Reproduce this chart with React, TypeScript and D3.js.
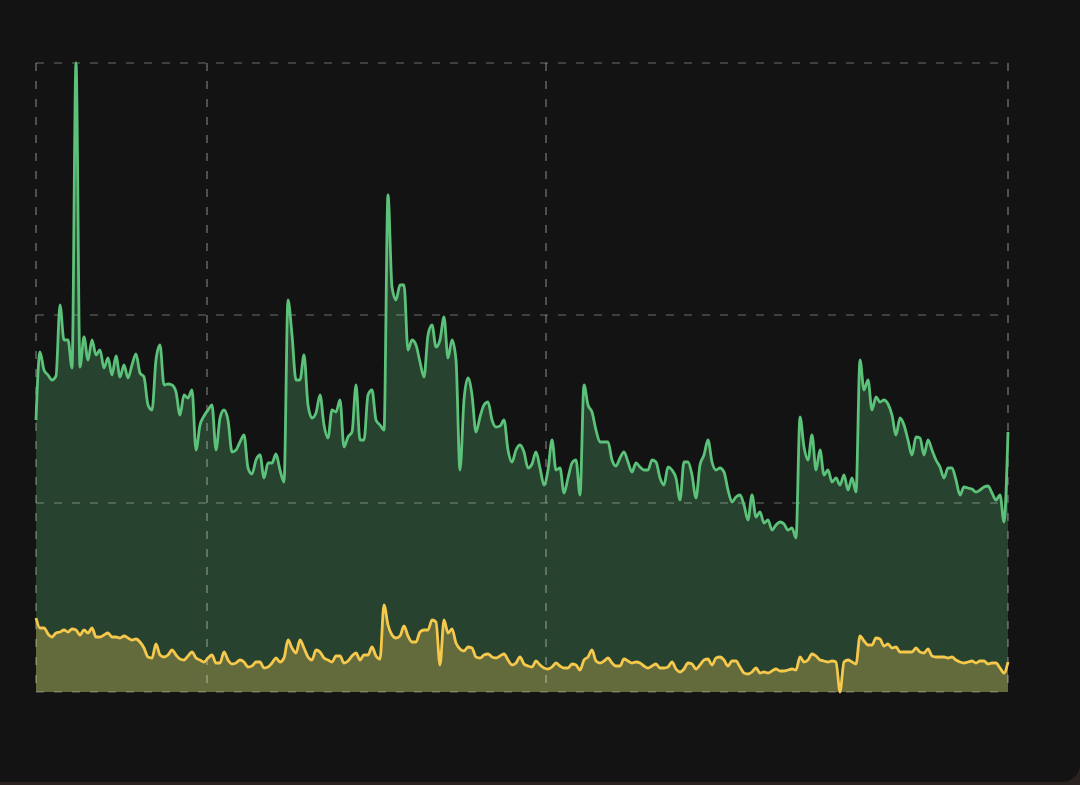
import React from "react";
import * as d3 from "d3";

// Series values (index = sample number, evenly spaced in time)
const greenSeries: number[] = [
  272, 340, 322, 317, 312, 316, 387, 352, 352, 324, 629, 325, 355, 332, 352, 337,
  342, 324, 334, 317, 336, 315, 327, 314, 327, 338, 319, 315, 287, 282, 332, 347,
  307, 308, 307, 300, 277, 297, 294, 302, 242, 267, 276, 282, 287, 242, 274, 282,
  272, 240, 242, 250, 257, 224, 218, 232, 237, 214, 229, 229, 238, 222, 210, 392,
  357, 312, 312, 337, 287, 274, 279, 297, 267, 254, 282, 280, 292, 245, 255, 260,
  307, 252, 252, 297, 302, 272, 267, 262, 497, 405, 392, 407, 407, 342, 352, 347,
  330, 315, 357, 367, 345, 352, 375, 334, 352, 332, 222, 292, 314, 297, 260, 275,
  287, 290, 272, 265, 266, 272, 242, 230, 242, 247, 240, 224, 228, 240, 224, 207,
  222, 252, 222, 224, 199, 214, 229, 232, 197, 307, 287, 280, 262, 250, 250, 250,
  232, 226, 234, 240, 230, 220, 229, 225, 222, 222, 232, 230, 214, 207, 225, 222,
  214, 192, 230, 230, 217, 194, 227, 237, 252, 230, 222, 224, 220, 202, 190, 195,
  197, 187, 172, 197, 175, 180, 169, 172, 162, 167, 170, 168, 162, 164, 154, 275,
  245, 232, 257, 222, 242, 217, 222, 210, 214, 207, 217, 202, 214, 200, 332, 302,
  312, 282, 295, 290, 292, 288, 277, 257, 274, 267, 252, 237, 255, 254, 237, 252,
  242, 232, 225, 214, 224, 224, 212, 197, 205, 204, 203, 200, 202, 205, 206, 199,
  192, 197, 170, 260,
];

const yellowSeries: number[] = [
  74, 64, 64, 58, 55, 59, 60, 62, 60, 63, 62, 57, 62, 59, 64, 55,
  55, 57, 59, 55, 55, 54, 56, 54, 52, 53, 50, 44, 35, 34, 48, 37,
  35, 37, 42, 37, 33, 32, 36, 40, 34, 32, 30, 34, 37, 29, 29, 40,
  32, 28, 29, 32, 30, 25, 26, 30, 30, 24, 25, 29, 34, 30, 34, 52,
  44, 39, 52, 44, 35, 32, 42, 40, 34, 32, 30, 36, 36, 29, 31, 36,
  39, 32, 37, 37, 45, 36, 33, 87, 67, 57, 54, 56, 66, 56, 50, 50,
  60, 62, 62, 72, 70, 27, 72, 59, 63, 49, 43, 41, 45, 44, 35, 34,
  37, 38, 35, 34, 36, 38, 32, 27, 29, 35, 28, 26, 25, 31, 27, 24,
  23, 25, 29, 26, 24, 24, 28, 27, 22, 32, 35, 42, 31, 29, 31, 34,
  29, 26, 26, 33, 31, 29, 30, 29, 26, 24, 26, 28, 24, 24, 25, 30,
  23, 20, 23, 29, 28, 23, 27, 32, 33, 27, 34, 35, 32, 26, 31, 31,
  25, 19, 18, 20, 24, 19, 20, 19, 21, 23, 21, 21, 22, 23, 22, 35,
  30, 32, 38, 36, 32, 31, 30, 31, 30, 0, 30, 32, 30, 28, 56, 51,
  47, 47, 54, 53, 46, 48, 44, 45, 40, 40, 40, 40, 44, 40, 39, 43,
  36, 35, 35, 35, 34, 35, 32, 30, 29, 30, 31, 29, 31, 31, 28, 29,
  29, 24, 19, 30,
];

// Gridline positions (sample index for x, value for y)
const xGridTicks: number[] = [0, 42.75, 127.5, 243];
const yGridTicks: number[] = [0, 189, 377, 629];

const W = 1080;
const H = 785;
const M = { left: 36, right: 1008, top: 63, bottom: 692 };

export default function App() {
  const n = greenSeries.length;
  const x = d3.scaleLinear().domain([0, n - 1]).range([M.left, M.right]);
  const y = d3
    .scaleLinear()
    .domain([0, d3.max(greenSeries) as number])
    .range([M.bottom, M.top]);

  const area = d3
    .area<number>()
    .x((_, i) => x(i))
    .y0(y(0))
    .y1((d) => y(d))
    .curve(d3.curveMonotoneX);
  const line = d3
    .line<number>()
    .x((_, i) => x(i))
    .y((d) => y(d))
    .curve(d3.curveMonotoneX);

  const gridColor = "rgba(255,255,255,0.26)";

  return (
    <svg
      width={W}
      height={H}
      style={{ position: "absolute", left: 0, top: 0, display: "block" }}
    >
      <rect x={0} y={0} width={W} height={H} fill="#2a2220" />
      <rect x={-20} y={-20} width={W + 20} height={802} rx={18} fill="#131313" />

      <path d={area(greenSeries) || ""} fill="#27432f" />
      <path d={area(yellowSeries) || ""} fill="#636a3b" />

      <g>
        {yGridTicks.map((t) => (
          <line
            key={"h" + t}
            x1={M.left}
            x2={M.right}
            y1={y(t)}
            y2={y(t)}
            stroke={gridColor}
            strokeWidth={1.6}
            strokeDasharray="8 10"
          />
        ))}
        {xGridTicks.map((t) => (
          <line
            key={"v" + t}
            x1={x(t)}
            x2={x(t)}
            y1={M.top}
            y2={M.bottom}
            stroke={gridColor}
            strokeWidth={2}
            strokeDasharray="8 10"
          />
        ))}
      </g>

      <path
        d={line(greenSeries) || ""}
        fill="none"
        stroke="#5cc27a"
        strokeWidth={2.8}
        strokeLinejoin="round"
      />
      <path
        d={line(yellowSeries) || ""}
        fill="none"
        stroke="#f6c84c"
        strokeWidth={2.8}
        strokeLinejoin="round"
      />
    </svg>
  );
}
